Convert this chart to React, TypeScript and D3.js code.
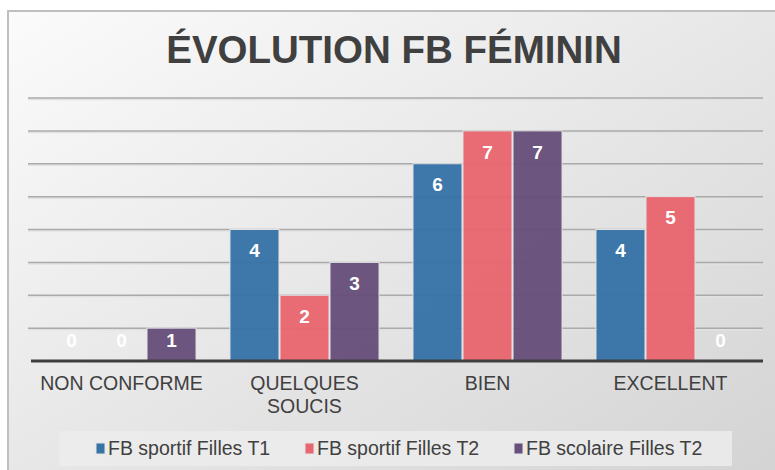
import React, { useEffect, useRef } from 'react';
import * as d3 from 'd3';

// chart values
const categories = ['NON CONFORME', 'QUELQUES SOUCIS', 'BIEN', 'EXCELLENT'];
const categoryLines = [['NON CONFORME'], ['QUELQUES', 'SOUCIS'], ['BIEN'], ['EXCELLENT']];
const seriesNames = ['FB sportif Filles T1', 'FB sportif Filles T2', 'FB scolaire Filles T2'];
const sportifT1 = [0, 4, 6, 4];
const sportifT2 = [0, 2, 7, 5];
const scolaireT2 = [1, 3, 7, 0];
const gridTicks = [1, 2, 3, 4, 5, 6, 7, 8];
const title = 'ÉVOLUTION FB FÉMININ';

const colors = ['#3873a6', '#e8666f', '#67507a'];
const FONT = '"Liberation Sans", Arial, sans-serif';

const App = () => {
    const svgRef = useRef<SVGSVGElement>(null);

    useEffect(() => {
        const W = 775, H = 470;
        const svg = d3.select(svgRef.current).attr('width', W).attr('height', H);
        svg.selectAll('*').remove();

        const seriesValues = [sportifT1, sportifT2, scolaireT2];

        const defs = svg.append('defs');
        const grad = defs.append('linearGradient').attr('id', 'bg')
            .attr('x1', 0).attr('y1', 0).attr('x2', 1).attr('y2', 1);
        grad.append('stop').attr('offset', '0%').attr('stop-color', '#fbfbfb');
        grad.append('stop').attr('offset', '100%').attr('stop-color', '#d3d3d3');

        svg.append('rect').attr('width', W).attr('height', H).attr('fill', '#ffffff');
        svg.append('rect')
            .attr('x', 8).attr('y', 11).attr('width', W).attr('height', H)
            .attr('fill', 'url(#bg)')
            .attr('stroke', '#bfbfbf').attr('stroke-width', 2);

        svg.append('text')
            .attr('x', 394).attr('y', 63)
            .attr('text-anchor', 'middle')
            .style('font-family', FONT).style('font-weight', 'bold').style('font-size', '38.5px')
            .attr('fill', '#404040')
            .text(title);

        const left = 30, right = 762, top = 98, bottom = 361;

        const x0 = d3.scaleBand<string>()
            .domain(categories)
            .range([left, right])
            .paddingInner(0.18)
            .paddingOuter(0.09);

        const x1 = d3.scaleBand<number>()
            .domain(d3.range(seriesNames.length))
            .range([0, x0.bandwidth()]);

        const y = d3.scaleLinear().domain([0, 8]).range([bottom, top]);

        // gridlines
        const grid = svg.append('g');
        grid.selectAll('line.shadow')
            .data(gridTicks)
            .enter()
            .append('line')
            .attr('class', 'shadow')
            .attr('x1', left - 2).attr('x2', right + 1)
            .attr('y1', d => y(d) + 1.5).attr('y2', d => y(d) + 1.5)
            .attr('stroke', '#e2e2e2').attr('stroke-width', 1.5);
        grid.selectAll('line.main')
            .data(gridTicks)
            .enter()
            .append('line')
            .attr('class', 'main')
            .attr('x1', left - 2).attr('x2', right + 1)
            .attr('y1', d => y(d)).attr('y2', d => y(d))
            .attr('stroke', '#aaaaaa').attr('stroke-width', 1.5);

        const groups = svg.append('g').selectAll('g')
            .data(categories)
            .enter()
            .append('g')
            .attr('transform', d => `translate(${x0(d)},0)`);

        groups.selectAll('rect')
            .data((_, i) => seriesValues.map((vals, s) => ({ s, v: vals[i] })))
            .enter()
            .filter(d => d.v > 0)
            .append('rect')
            .attr('x', d => x1(d.s)! + 0.5)
            .attr('y', d => y(d.v))
            .attr('width', x1.bandwidth() - 1)
            .attr('height', d => y(0) - y(d.v))
            .attr('fill', (d) => colors[d.s])
            .attr('fill-opacity', 0.97)
            .attr('stroke', '#e4e4e4').attr('stroke-width', 1);

        groups.selectAll('text')
            .data((_, i) => seriesValues.map((vals, s) => ({ s, v: vals[i] })))
            .enter()
            .append('text')
            .attr('x', d => x1(d.s)! + x1.bandwidth() / 2)
            .attr('y', d => Math.min(y(d.v) + 21, y(0) - 21))
            .attr('dy', '0.35em')
            .attr('text-anchor', 'middle')
            .style('font-family', FONT).style('font-weight', 'bold').style('font-size', '19px')
            .attr('fill', '#ffffff')
            .text(d => d.v);

        // axis baseline
        svg.append('line')
            .attr('x1', left + 1).attr('x2', right + 1)
            .attr('y1', y(0)).attr('y2', y(0))
            .attr('stroke', '#3f3f3f').attr('stroke-width', 3);

        // category labels
        categories.forEach((c, i) => {
            const t = svg.append('text')
                .attr('x', x0(c)! + x0.bandwidth() / 2)
                .attr('y', 390)
                .attr('text-anchor', 'middle')
                .style('font-family', FONT).style('font-size', '19.5px')
                .attr('fill', '#404040');
            categoryLines[i].forEach((line, k) => {
                t.append('tspan')
                    .attr('x', x0(c)! + x0.bandwidth() / 2)
                    .attr('dy', k === 0 ? 0 : 23)
                    .text(line);
            });
        });

        // legend
        svg.append('rect')
            .attr('x', 59).attr('y', 431).attr('width', 673).attr('height', 35)
            .attr('fill', '#ececec').attr('fill-opacity', 0.85);

        const legend = svg.append('g').selectAll('g')
            .data(seriesNames)
            .enter()
            .append('g')
            .attr('transform', (_, i) => `translate(${96 + i * 209},0)`);

        legend.append('rect')
            .attr('x', 0).attr('y', 443).attr('width', 9).attr('height', 11)
            .attr('fill', (_, i) => colors[i])
            .attr('stroke', '#e4e4e4').attr('stroke-width', 1);

        legend.append('text')
            .attr('x', 12).attr('y', 455)
            .style('font-family', FONT).style('font-size', '19.5px')
            .attr('fill', '#404040')
            .text(d => d);
    }, []);

    return (
        <div style={{ position: 'absolute', left: 0, top: 0 }}>
            <svg ref={svgRef} style={{ display: 'block' }}></svg>
        </div>
    );
};

export default App;
